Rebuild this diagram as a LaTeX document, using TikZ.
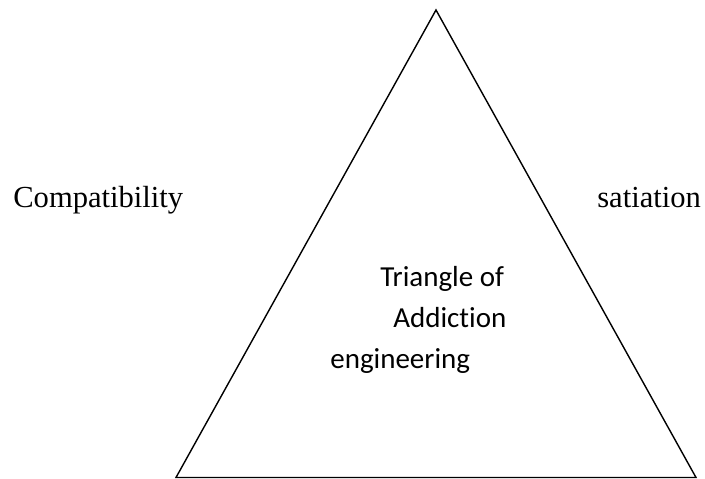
\documentclass[tikz,border=0pt]{standalone}
\usepackage{fontspec}
\setmainfont{Liberation Serif}
\newfontfamily\calibri[Ligatures=NoCommon]{Carlito}
\usepackage{tikz}

\begin{document}
\begin{tikzpicture}
\tikzset{side/.style={anchor=base west, inner sep=0pt, font=\fontsize{17.4}{20}\selectfont},
  inner/.style={anchor=base west, inner sep=0pt, font=\calibri\fontsize{16.5}{19}\selectfont}}
\useasboundingbox (0,0) rectangle (14.1,9.58) ;
\coordinate (top) at (8.72,9.38) ;
\coordinate (left) at (3.52,0.03) ;
\coordinate (right) at (13.92,0.03) ;
\draw[line width=0.8pt] (top) -- (right) -- (left) -- cycle ;
\node[side] (compat) at (0.26,5.42) {Compatibility} ;
\node[side] (sat) at (11.94,5.42) {satiation} ;
\node[inner] (tri) at (7.6,3.84) {Triangle of} ;
\node[inner] (addi) at (7.86,3.03) {Addiction} ;
\node[inner] (eng) at (6.6,2.2) {engineering} ;
\end{tikzpicture}
\end{document}
